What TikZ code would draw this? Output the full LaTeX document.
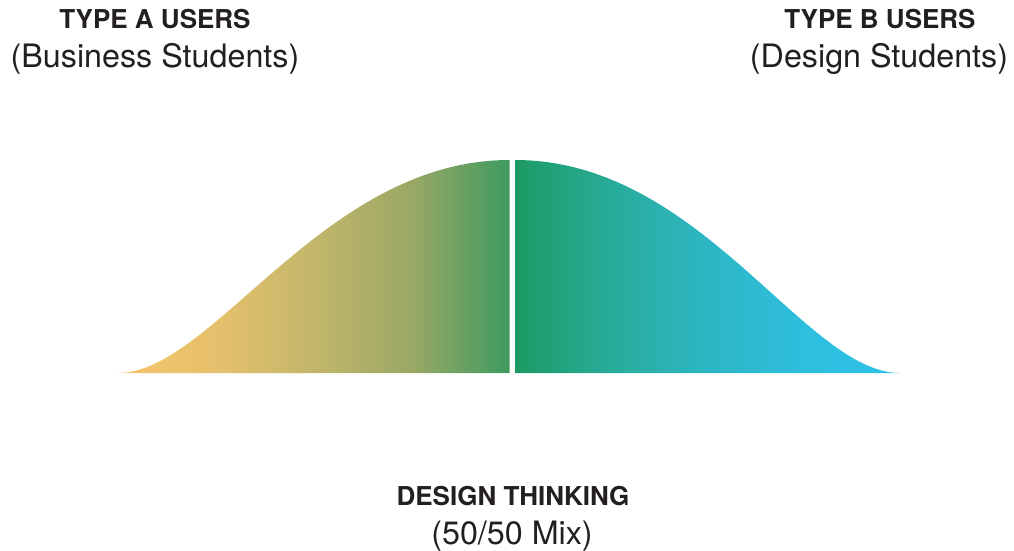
\documentclass[tikz,border=0pt]{standalone}
\usepackage{fontspec}
\setmainfont{TeX Gyre Heros}
\usetikzlibrary{positioning}

\definecolor{labelInk}{RGB}{35,31,32}
% left half stops
\definecolor{bellA0}{RGB}{245,196,108}
\definecolor{bellA1}{RGB}{230,192,108}
\definecolor{bellA2}{RGB}{194,182,107}
\definecolor{bellA3}{RGB}{154,168,101}
\definecolor{bellA4}{RGB}{62,154,96}
% right half stops
\definecolor{bellB0}{RGB}{28,154,100}
\definecolor{bellB1}{RGB}{40,172,154}
\definecolor{bellB2}{RGB}{45,182,196}
\definecolor{bellB3}{RGB}{46,190,222}
\definecolor{bellB4}{RGB}{46,195,233}

\pgfdeclarehorizontalshading{bellLeft}{100bp}{color(0bp)=(bellA0); color(25bp)=(bellA0); color(37.5bp)=(bellA1); color(50bp)=(bellA2); color(62.5bp)=(bellA3); color(75bp)=(bellA4); color(100bp)=(bellA4)}
\pgfdeclarehorizontalshading{bellRight}{100bp}{color(0bp)=(bellB0); color(25bp)=(bellB0); color(37.5bp)=(bellB1); color(50bp)=(bellB2); color(62.5bp)=(bellB3); color(75bp)=(bellB4); color(100bp)=(bellB4)}

\tikzset{every picture/.style={line width=0.75pt}}
\tikzset{
  headText/.style={text=labelInk, inner sep=0pt, anchor=base, font=\bfseries\fontsize{19.5}{22}\selectfont},
  subText/.style={text=labelInk, inner sep=0pt, anchor=base, font=\fontsize{24.2}{28}\selectfont}
}

\begin{document}
\begin{tikzpicture}[x=0.75pt,y=0.75pt,yscale=-1,xscale=1]
\useasboundingbox (0,0) rectangle (1014,550);

% Left Half
\shade [shading=bellLeft] (118,373) .. controls (213,373) and (323.5,160) .. (509.5,160) -- (509.5,373) -- cycle ;
% Right Half
\shade [shading=bellRight] (515,160) .. controls (701,160) and (805,373) .. (900,373) -- (515,373) -- cycle ;

% Text Node
\node [headText] (typeA) at (155,28) {TYPE A USERS};
\node [subText] (typeAsub) at (155,67) {(Business Students)};
% Text Node
\node [headText] (typeB) at (880,28) {TYPE B USERS};
\node [subText] (typeBsub) at (879,67) {(Design Students)};
% Text Node
\node [headText] (mix) at (513,505) {DESIGN THINKING};
\node [subText] (mixsub) at (512,544) {(50/50 Mix)};

\end{tikzpicture}
\end{document}
